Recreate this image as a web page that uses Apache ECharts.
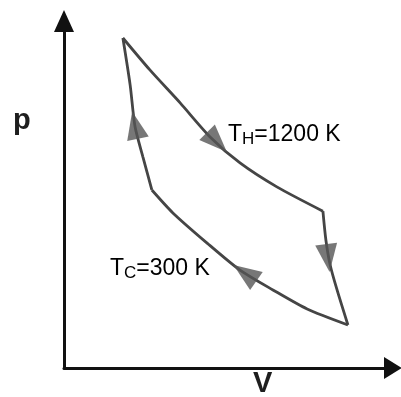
<!DOCTYPE html>
<html><head><meta charset="utf-8">
<script src="https://cdn.jsdelivr.net/npm/echarts@6/dist/echarts.min.js"></script>
<style>html,body{margin:0;padding:0;background:#fff}#c{width:401px;height:397px}</style>
</head><body><div id="c"></div>
<script>
// Cycle legs: [V, p] in arbitrary units (0..100)
const hotIsotherm = [[17.9,95.1],[26.1,85.9],[35.3,76.4],[44.4,66.6],[53.5,59.1],[64.7,52.2],[78.7,45.2]];
const expansionAdiabat = [[78.7,45.2],[79.6,36.9],[80.9,29.7],[83.0,22.5],[86.3,12.4]];
const coldIsotherm = [[86.3,12.4],[73.9,17.0],[63.5,22.5],[53.5,28.2],[43.5,36.0],[33.1,44.7],[26.7,51.3]];
const compressionAdiabat = [[26.7,51.3],[24.0,60.8],[21.6,69.5],[20.1,81.6],[17.9,95.1]];
// Direction arrows: [V, p, rotation in degrees]
const arrowMarks = [[46.5,65.1,-135],[80.2,31.7,187],[55.0,27.4,55],[21.6,70.0,12]];
const hotLabel = ['T','H','=1200 K'];
const coldLabel = ['T','C','=300 K'];
const axisNames = ['V','p'];

const chart = echarts.init(document.getElementById('c'), null, {renderer:'canvas'});
const lineColor = '#454545';
const font = 'Liberation Sans, Arial, Helvetica, sans-serif';
function leg(data){
  return {type:'line', data:data, smooth:0.25, symbol:'none', silent:true,
    lineStyle:{color:lineColor, width:2.8}, z:3};
}
const rich = {
  a:{fontSize:23, lineHeight:27, fontFamily:font, color:'#1e1e1e'},
  b:{fontSize:17, lineHeight:17, fontFamily:font, color:'#1e1e1e', verticalAlign:'bottom'}
};
chart.setOption({
  animation:false,
  backgroundColor:'#ffffff',
  grid:{left:64, top:21, right:8, bottom:29},
  xAxis:{type:'value', min:0, max:100, axisTick:{show:false}, axisLabel:{show:false}, splitLine:{show:false},
    axisLine:{lineStyle:{color:'#111', width:3}, symbol:['none','triangle'], symbolSize:[22,18]}},
  yAxis:{type:'value', min:0, max:100, axisTick:{show:false}, axisLabel:{show:false}, splitLine:{show:false},
    axisLine:{lineStyle:{color:'#111', width:3}, symbol:['none','triangle'], symbolSize:[20,22]}},
  series:[
    leg(hotIsotherm), leg(expansionAdiabat), leg(coldIsotherm), leg(compressionAdiabat),
    {type:'scatter', silent:true, z:4, symbol:'triangle', symbolSize:[22,28],
      itemStyle:{color:'#555555'},
      data:arrowMarks.map(a=>({value:[a[0],a[1]], symbolRotate:a[2]}))}
  ],
  graphic:[
    {type:'text', left:228, top:123, style:{text:'{a|'+hotLabel[0]+'}{b|'+hotLabel[1]+'}{a|'+hotLabel[2]+'}', rich:rich}},
    {type:'text', left:110, top:257, style:{text:'{a|'+coldLabel[0]+'}{b|'+coldLabel[1]+'}{a|'+coldLabel[2]+'}', rich:rich}},
    {type:'text', left:253, top:369, style:{text:axisNames[0], font:'bold 29px '+font, fill:'#1e1e1e'}},
    {type:'text', left:13, top:106, style:{text:axisNames[1], font:'bold 29px '+font, fill:'#1e1e1e'}}
  ]
});
</script></body></html>
